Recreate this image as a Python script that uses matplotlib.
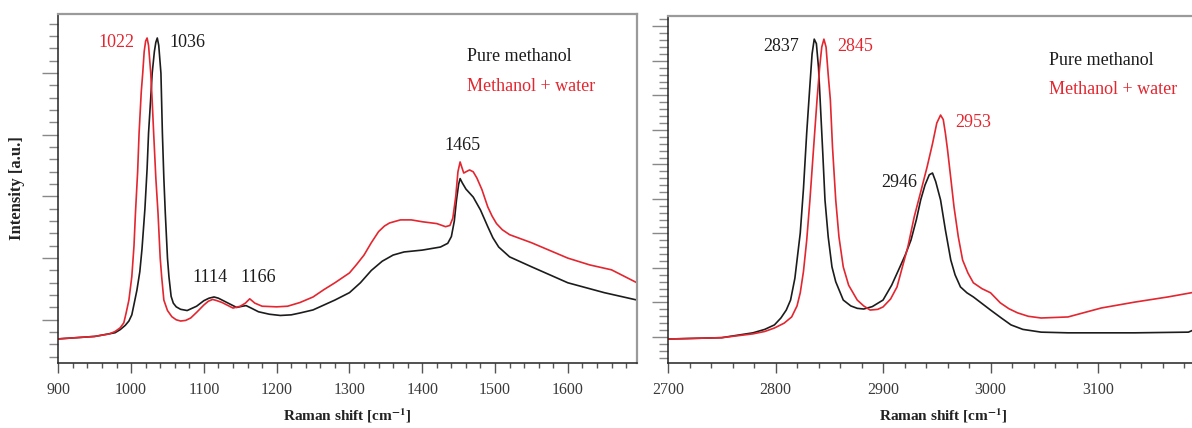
import matplotlib
matplotlib.use("Agg")
import matplotlib.pyplot as plt
from matplotlib.ticker import MultipleLocator

plt.rcParams['font.family'] = ['Liberation Serif', 'DejaVu Serif']
plt.rcParams['mathtext.fontset'] = 'stix'

RED = '#e3262f'
BLACK = '#1c1c1c'

# ---- left panel: 900-1700 cm-1 (arbitrary units)
pure_lo_x = [900, 950, 978, 985, 992, 997, 1001, 1004, 1008, 1012, 1015, 1019, 1022,
             1024, 1027, 1029, 1032, 1034, 1036, 1038, 1040, 1041, 1043, 1045, 1047,
             1050, 1052, 1055, 1058, 1062, 1068, 1077, 1090, 1100, 1107, 1114, 1120,
             1125, 1135, 1145, 1153, 1158, 1165, 1175, 1190, 1205, 1220, 1232, 1250,
             1265, 1280, 1300, 1315, 1330, 1345, 1360, 1375, 1400, 1425, 1435, 1440,
             1444, 1447, 1450, 1452, 1455, 1460, 1470, 1480, 1490, 1497, 1505, 1520,
             1550, 1600, 1650, 1695]
pure_lo_y = [0.69, 0.73, 0.79, 0.84, 0.91, 0.98, 1.08, 1.25, 1.48, 1.78, 2.15, 2.80, 3.45,
             4.03, 4.60, 5.00, 5.35, 5.50, 5.57, 5.45, 5.15, 5.00, 4.03, 3.30, 2.73,
             2.00, 1.70, 1.38, 1.27, 1.21, 1.17, 1.15, 1.22, 1.31, 1.35, 1.37, 1.35,
             1.32, 1.26, 1.20, 1.22, 1.23, 1.19, 1.13, 1.09, 1.07, 1.08, 1.11, 1.16,
             1.24, 1.32, 1.44, 1.60, 1.80, 1.95, 2.05, 2.10, 2.13, 2.18, 2.24, 2.35,
             2.60, 2.94, 3.20, 3.29, 3.22, 3.12, 2.99, 2.78, 2.51, 2.33, 2.18, 2.02,
             1.86, 1.60, 1.44, 1.32]

mix_lo_x = [900, 950, 970, 978, 985, 990, 993, 997, 1001, 1004, 1006, 1009, 1011, 1014,
            1016, 1018, 1020, 1022, 1024, 1026, 1027, 1029, 1031, 1034, 1037, 1040,
            1042, 1045, 1050, 1056, 1062, 1068, 1075, 1082, 1090, 1100, 1106, 1112,
            1118, 1125, 1140, 1150, 1157, 1163, 1170, 1180, 1200, 1215, 1232, 1250,
            1265, 1280, 1300, 1310, 1320, 1330, 1340, 1348, 1355, 1370, 1385, 1400,
            1420, 1432, 1438, 1442, 1446, 1449, 1452, 1455, 1457, 1460, 1465, 1470,
            1475, 1482, 1490, 1496, 1502, 1510, 1520, 1550, 1580, 1600, 1630, 1660,
            1695]
mix_lo_y = [0.69, 0.73, 0.77, 0.81, 0.87, 0.95, 1.10, 1.32, 1.70, 2.20, 2.73, 3.40, 4.03,
            4.70, 5.00, 5.35, 5.52, 5.57, 5.45, 5.15, 5.00, 4.55, 4.03, 3.30, 2.73,
            2.00, 1.70, 1.32, 1.15, 1.05, 1.00, 0.98, 0.99, 1.03, 1.12, 1.24, 1.30,
            1.33, 1.31, 1.28, 1.19, 1.22, 1.27, 1.34, 1.27, 1.22, 1.21, 1.22, 1.28,
            1.37, 1.49, 1.60, 1.76, 1.90, 2.05, 2.25, 2.43, 2.52, 2.57, 2.62, 2.62,
            2.59, 2.56, 2.51, 2.53, 2.65, 3.00, 3.40, 3.56, 3.45, 3.38, 3.40, 3.43,
            3.40, 3.30, 3.11, 2.83, 2.68, 2.56, 2.46, 2.38, 2.25, 2.10, 2.00, 1.89,
            1.81, 1.60]

# ---- right panel: 2700-3200 cm-1
pure_hi_x = [2700, 2750, 2779, 2790, 2799, 2805, 2810, 2814, 2818, 2823, 2826, 2829,
             2832, 2834, 2836, 2838, 2840, 2841.5, 2844, 2846, 2849, 2852.5, 2856,
             2863, 2870, 2876, 2882, 2890, 2900, 2908, 2916, 2921, 2926, 2931, 2935,
             2939, 2943, 2946, 2949, 2953.5, 2958, 2963, 2967, 2972, 2978, 2984, 2992,
             3000, 3010, 3019, 3030, 3047, 3072, 3103, 3134, 3184, 3190]
pure_hi_y = [0.94, 0.98, 1.12, 1.22, 1.35, 1.55, 1.78, 2.07, 2.70, 4.01, 5.30, 6.91,
             8.30, 9.20, 9.63, 9.50, 8.80, 7.87, 6.30, 4.97, 3.90, 3.03, 2.60,
             2.07, 1.90, 1.83, 1.81, 1.88, 2.07, 2.50, 3.05, 3.40, 3.81, 4.40, 4.97,
             5.40, 5.70, 5.75, 5.50, 4.97, 4.10, 3.23, 2.80, 2.45, 2.28, 2.16, 1.97,
             1.78, 1.55, 1.35, 1.22, 1.14, 1.12, 1.12, 1.12, 1.14, 1.22]

mix_hi_x = [2700, 2750, 2779, 2790, 2799, 2808, 2815, 2820, 2823, 2826, 2829, 2832,
            2835, 2838.6, 2841, 2843, 2845, 2847, 2849, 2851, 2853, 2856, 2859, 2863,
            2868, 2876, 2882, 2888, 2895, 2900, 2907, 2913, 2918, 2923, 2929, 2935,
            2941, 2946, 2950, 2953.5, 2956, 2958, 2960, 2963, 2966, 2970, 2974, 2979,
            2984, 2992, 3000, 3009, 3017, 3025, 3035, 3047, 3072, 3103, 3134, 3165,
            3190]
mix_hi_y = [0.94, 0.98, 1.09, 1.16, 1.26, 1.40, 1.58, 1.90, 2.28, 2.90, 3.80, 4.97,
            6.30, 7.87, 8.80, 9.40, 9.63, 9.40, 8.60, 7.87, 6.50, 4.97, 3.90, 3.03,
            2.50, 2.07, 1.90, 1.78, 1.80, 1.87, 2.10, 2.45, 3.03, 3.60, 4.48, 5.20,
            5.93, 6.60, 7.20, 7.43, 7.30, 6.90, 6.42, 5.60, 4.77, 3.90, 3.23, 2.85,
            2.57, 2.40, 2.28, 1.99, 1.82, 1.70, 1.60, 1.55, 1.58, 1.84, 2.01, 2.16,
            2.30]

# peak labels: (text, x, y, colour, alignment)
labels_lo = [('1022', 1004, 5.49, RED, 'right'), ('1036', 1053, 5.49, BLACK, 'left'),
             ('1114', 1108, 1.68, BLACK, 'center'), ('1166', 1174, 1.68, BLACK, 'center'),
             ('1465', 1455, 3.82, BLACK, 'center')]
labels_hi = [('2837', 2805, 9.43, BLACK, 'center'), ('2845', 2874, 9.43, RED, 'center'),
             ('2946', 2915, 5.49, BLACK, 'center'), ('2953', 2984, 7.20, RED, 'center')]

fig = plt.figure(figsize=(11.92, 4.28), dpi=100)
ax1 = fig.add_axes([0.0489, 0.152, 0.4855, 0.8154])
ax2 = fig.add_axes([0.5604, 0.1526, 0.4438, 0.810])


def style(ax, xlim, ylim):
    ax.set_xlim(*xlim)
    ax.set_ylim(*ylim)
    ax.xaxis.set_major_locator(MultipleLocator(100))
    ax.xaxis.set_minor_locator(MultipleLocator(20))
    ax.yaxis.set_major_locator(MultipleLocator(1))
    ax.yaxis.set_minor_locator(MultipleLocator(0.2))
    ax.tick_params(axis='x', which='major', direction='out', length=7.2, width=1,
                   color='#555555', labelsize=11.5, labelcolor='#3a3a3a', pad=6.5)
    ax.tick_params(axis='x', which='minor', direction='out', length=3.6, width=1,
                   color='#555555')
    ax.tick_params(axis='y', which='major', direction='out', length=11.5, width=1,
                   color='#888888', labelleft=False)
    ax.tick_params(axis='y', which='minor', direction='out', length=6.5, width=1,
                   color='#888888')
    for s in ['top', 'right']:
        ax.spines[s].set_color('#9a9a9a')
        ax.spines[s].set_linewidth(1.6)
    for s in ['left', 'bottom']:
        ax.spines[s].set_color('#222222')
        ax.spines[s].set_linewidth(1.1)
    ax.set_xlabel('Raman shift [cm$^{\\mathbf{-1}}$]', fontsize=11, fontweight='bold',
                  color='#222222')


style(ax1, (900, 1695), (0.30, 5.96))
style(ax2, (2700, 3192), (0.255, 10.30))

ax1.plot(pure_lo_x, pure_lo_y, color=BLACK, lw=1.2)
ax1.plot(mix_lo_x, mix_lo_y, color=RED, lw=1.2)
ax2.plot(pure_hi_x, pure_hi_y, color=BLACK, lw=1.2)
ax2.plot(mix_hi_x, mix_hi_y, color=RED, lw=1.2)

for ax, labs in [(ax1, labels_lo), (ax2, labels_hi)]:
    for t, x, y, c, ha in labs:
        ax.text(x, y, t, color=c, ha=ha, va='center', fontsize=13)

ax1.text(0.706, 0.877, 'Pure methanol', color=BLACK, fontsize=13,
         transform=ax1.transAxes, va='center')
ax1.text(0.706, 0.791, 'Methanol + water', color=RED, fontsize=13,
         transform=ax1.transAxes, va='center')
ax2.text(0.72, 0.873, 'Pure methanol', color=BLACK, fontsize=13,
         transform=ax2.transAxes, va='center')
ax2.text(0.72, 0.787, 'Methanol + water', color=RED, fontsize=13,
         transform=ax2.transAxes, va='center')

ax1.set_ylabel('Intensity [a.u.]', fontsize=12, fontweight='bold', color='#222222')
ax1.yaxis.set_label_coords(-0.057, 0.50)
ax1.xaxis.set_label_coords(0.5, -0.125)
ax2.xaxis.set_label_coords(0.52, -0.125)

fig.savefig('out.png', dpi=100)
